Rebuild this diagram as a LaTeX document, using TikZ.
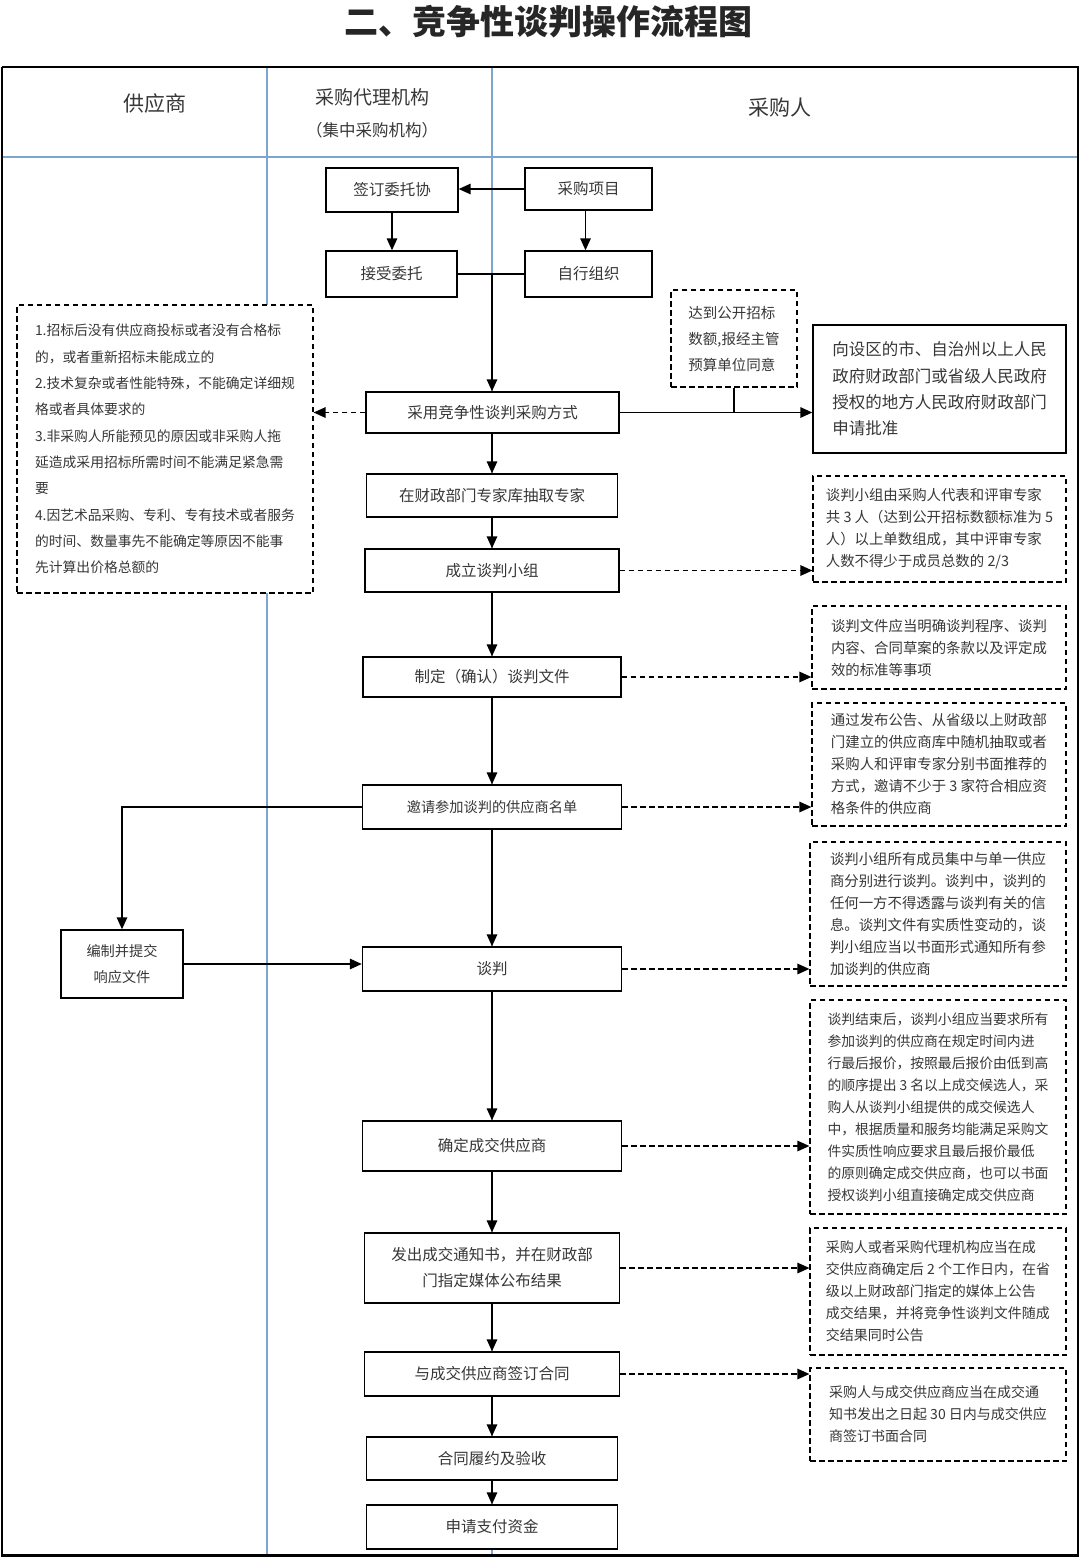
\documentclass[tikz,border=0pt]{standalone}
\usepackage{fontspec}
\setmainfont{Noto Sans CJK SC}
\usetikzlibrary{arrows.meta}
\definecolor{lanec}{RGB}{125,165,205}
\definecolor{txt}{RGB}{55,55,55}
\begin{document}
\begin{tikzpicture}[x=1pt,y=-1pt,
  box/.style={draw=black,fill=white,line width=1.4pt,inner sep=0pt,align=center,text=txt,font=\fontsize{15.5}{26}\selectfont},
  note/.style={draw=black,fill=white,line width=1.2pt,dash pattern=on 5.5pt off 3.5pt,inner sep=0pt,align=left,text=txt,font=\fontsize{14.4}{22}\selectfont},
  arr/.style={line width=1.5pt,-{Triangle[length=12pt,width=10.5pt]}},
  darr/.style={arr,line width=1.4pt,dash pattern=on 5.5pt off 3.5pt},
  plain/.style={line width=1.4pt},
  lane/.style={draw=lanec,line width=1.3pt},
  head/.style={text=txt}]
\useasboundingbox (0,0) rectangle (1080,1559);
% title
\node[font=\fontsize{34}{40}\selectfont\bfseries,text=black!85] (title) at (548,22) {二、竞争性谈判操作流程图};
% lanes
\draw[lane] (2,157) -- (1078,157);
\draw[lane] (267,67) -- (267,1556);
\draw[lane] (492,67) -- (492,1556);
\draw[line width=2pt] (2,67) -- (1078,67) -- (1078,1556);
\draw[line width=2pt] (2,67) -- (2,1556);
\draw[line width=3pt] (1,1555.5) -- (1079,1555.5);
\node[head,font=\fontsize{21}{24}\selectfont] (h1) at (155,104) {供应商};
\node[head,font=\fontsize{19}{22}\selectfont] (h2a) at (372,97) {采购代理机构};
\node[head,font=\fontsize{16.5}{20}\selectfont] (h2b) at (372,130) {（集中采购机构）};
\node[head,font=\fontsize{21}{24}\selectfont] (h3) at (780,108) {采购人};
% top boxes
\node[box,minimum width=132,minimum height=44] (qianding) at (392,190) {签订委托协};
\node[box,minimum width=127,minimum height=42] (caigou) at (588.5,189) {采购项目};
\node[box,minimum width=131,minimum height=46] (jieshou) at (391.5,274) {接受委托};
\node[box,minimum width=127,minimum height=46] (zixing) at (588.5,274) {自行组织};
\coordinate (j1) at (492,274);
% main column
\node[box,minimum width=253,minimum height=41] (caiyong) at (492.5,412.5) {采用竞争性谈判采购方式};
\node[box,minimum width=251,minimum height=43] (zhuanjia) at (492,495.5) {在财政部门专家库抽取专家};
\node[box,minimum width=254,minimum height=43] (chengli) at (492,570.5) {成立谈判小组};
\node[box,minimum width=258,minimum height=40] (zhiding) at (492,677) {制定（确认）谈判文件};
\node[box,minimum width=259,minimum height=44,font=\fontsize{14.2}{24}\selectfont] (yaoqing) at (492,807) {邀请参加谈判的供应商名单};
\node[box,minimum width=122,minimum height=68,font=\fontsize{14.2}{26}\selectfont] (bianzhi) at (122,964) {编制并提交\\响应文件};
\node[box,minimum width=259,minimum height=44] (tanpan) at (492,969) {谈判};
\node[box,minimum width=259,minimum height=50] (queding) at (492,1146) {确定成交供应商};
\node[box,minimum width=255,minimum height=70] (fachu) at (492,1268) {发出成交通知书，并在财政部\\门指定媒体公布结果};
\node[box,minimum width=255,minimum height=44] (qianhe) at (492,1374) {与成交供应商签订合同};
\node[box,minimum width=251,minimum height=43] (lvyue) at (492,1458.5) {合同履约及验收};
\node[box,minimum width=251,minimum height=44] (zhifu) at (492,1527) {申请支付资金};
% side notes
\node[note,minimum width=296,minimum height=288,font=\fontsize{13.8}{26.3}\selectfont] (left) at (165,449) {1.招标后没有供应商投标或者没有合格标\\的，或者重新招标未能成立的\\2.技术复杂或者性能特殊，不能确定详细规\\格或者具体要求的\\3.非采购人所能预见的原因或非采购人拖\\延造成采用招标所需时间不能满足紧急需\\要\\4.因艺术品采购、专利、专有技术或者服务\\的时间、数量事先不能确定等原因不能事\\先计算出价格总额的};
\node[note,minimum width=126,minimum height=97,font=\fontsize{14.5}{26}\selectfont] (dadao) at (734,338.5) {达到公开招标\\数额,报经主管\\预算单位同意};
\node[box,minimum width=253,minimum height=128,align=left,font=\fontsize{16.5}{26.3}\selectfont] (shenqing) at (939.5,389) {向设区的市、自治州以上人民\\政府财政部门或省级人民政府\\授权的地方人民政府财政部门\\申请批准};
\node[note,minimum width=253,minimum height=106] (n1) at (939.5,529) {谈判小组由采购人代表和评审专家\\共 3 人（达到公开招标数额标准为 5\\人）以上单数组成，其中评审专家\\人数不得少于成员总数的 2/3};
\node[note,minimum width=254,minimum height=83] (n2) at (939,647.5) {谈判文件应当明确谈判程序、谈判\\内容、合同草案的条款以及评定成\\效的标准等事项};
\node[note,minimum width=254,minimum height=123] (n3) at (939,764.5) {通过发布公告、从省级以上财政部\\门建立的供应商库中随机抽取或者\\采购人和评审专家分别书面推荐的\\方式，邀请不少于 3 家符合相应资\\格条件的供应商};
\node[note,minimum width=256,minimum height=144] (n4) at (938,914) {谈判小组所有成员集中与单一供应\\商分别进行谈判。谈判中，谈判的\\任何一方不得透露与谈判有关的信\\息。谈判文件有实质性变动的，谈\\判小组应当以书面形式通知所有参\\加谈判的供应商};
\node[note,minimum width=256,minimum height=214,font=\fontsize{13.8}{22}\selectfont] (n5) at (938,1107) {谈判结束后，谈判小组应当要求所有\\参加谈判的供应商在规定时间内进\\行最后报价，按照最后报价由低到高\\的顺序提出 3 名以上成交候选人，采\\购人从谈判小组提供的成交候选人\\中，根据质量和服务均能满足采购文\\件实质性响应要求且最后报价最低\\的原则确定成交供应商，也可以书面\\授权谈判小组直接确定成交供应商};
\node[note,minimum width=256,minimum height=127,font=\fontsize{14}{22}\selectfont] (n6) at (938,1291.5) {采购人或者采购代理机构应当在成\\交供应商确定后 2 个工作日内，在省\\级以上财政部门指定的媒体上公告\\成交结果，并将竞争性谈判文件随成\\交结果同时公告};
\node[note,minimum width=256,minimum height=93,font=\fontsize{14}{22}\selectfont] (n7) at (938,1414.5) {采购人与成交供应商应当在成交通\\知书发出之日起 30 日内与成交供应\\商签订书面合同};
% connectors
\draw[arr] (caigou.west) -- (caigou.west -| qianding.east);
\draw[arr] (qianding.south) -- (qianding.south |- jieshou.north);
\draw[arr] ([xshift=-3pt]caigou.south) -- ([xshift=-3pt]caigou.south |- zixing.north);
\draw[plain] (jieshou.east) -- (zixing.west);
\draw[arr] (j1) -- (j1 |- caiyong.north);
\draw[darr] (caiyong.west) -- (caiyong.west -| left.east);
\draw[arr] (caiyong.east) -- (caiyong.east -| shenqing.west);
\draw[plain] (dadao.south) -- (dadao.south |- caiyong.east);
\draw[arr] (caiyong.south -| zhuanjia.north) -- (zhuanjia.north);
\draw[arr] (zhuanjia.south) -- (zhuanjia.south |- chengli.north);
\draw[arr] (chengli.south) -- (chengli.south |- zhiding.north);
\draw[arr] (zhiding.south) -- (zhiding.south |- yaoqing.north);
\draw[arr] (yaoqing.south) -- (yaoqing.south |- tanpan.north);
\draw[arr] (tanpan.south) -- (tanpan.south |- queding.north);
\draw[arr] (queding.south) -- (queding.south |- fachu.north);
\draw[arr] (fachu.south) -- (fachu.south |- qianhe.north);
\draw[arr] (qianhe.south) -- (qianhe.south |- lvyue.north);
\draw[arr] (lvyue.south) -- (lvyue.south |- zhifu.north);
\draw[darr] (chengli.east) -- (chengli.east -| n1.west);
\draw[darr] (zhiding.east) -- (zhiding.east -| n2.west);
\draw[darr] (yaoqing.east) -- (yaoqing.east -| n3.west);
\draw[darr] (tanpan.east) -- (tanpan.east -| n4.west);
\draw[darr] (queding.east) -- (queding.east -| n5.west);
\draw[darr] (fachu.east) -- (fachu.east -| n6.west);
\draw[darr] (qianhe.east) -- (qianhe.east -| n7.west);
\draw[arr] (yaoqing.west) -| (bianzhi.north);
\draw[arr] (bianzhi.east) -- (bianzhi.east -| tanpan.west);
\end{tikzpicture}
\end{document}
